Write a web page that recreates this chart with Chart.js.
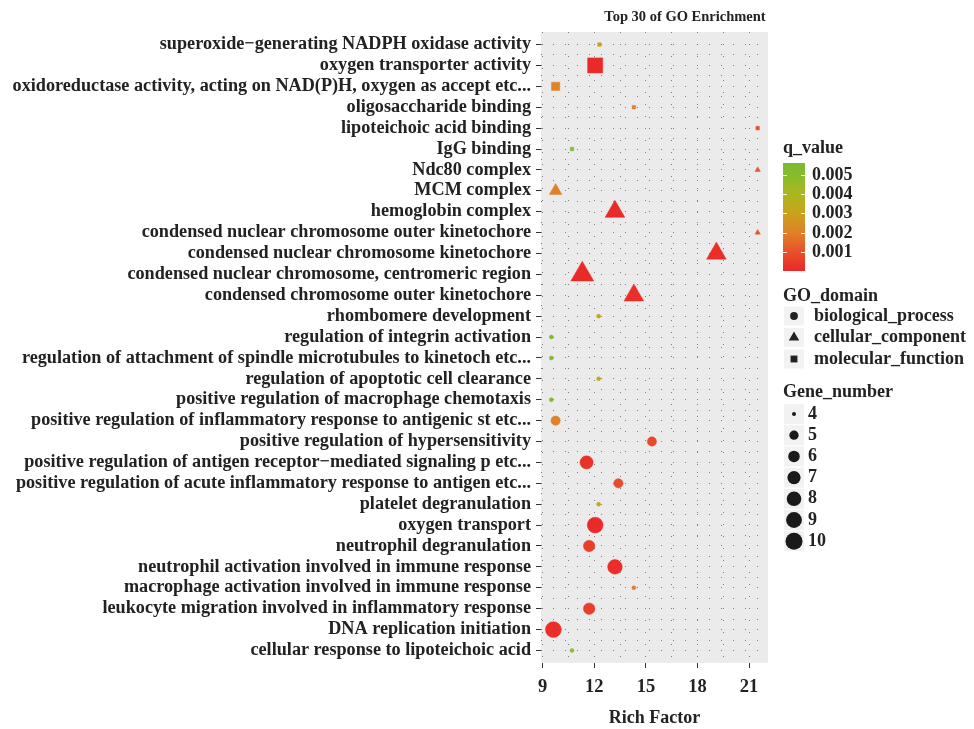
<!DOCTYPE html>
<html>
<head>
<meta charset="utf-8">
<script src="https://cdn.jsdelivr.net/npm/chart.js@4/dist/chart.umd.min.js"></script>
<style>
  html, body { margin: 0; padding: 0; background: #fff; }
  #wrap { width: 974px; height: 729px; }
</style>
</head>
<body>
<div id="wrap"><canvas id="go-dot" width="974" height="729"></canvas></div>
<script>
// rows, top to bottom
var categories = [
  "superoxide\u2212generating NADPH oxidase activity",
  "oxygen transporter activity",
  "oxidoreductase activity, acting on NAD(P)H, oxygen as accept etc...",
  "oligosaccharide binding",
  "lipoteichoic acid binding",
  "IgG binding",
  "Ndc80 complex",
  "MCM complex",
  "hemoglobin complex",
  "condensed nuclear chromosome outer kinetochore",
  "condensed nuclear chromosome kinetochore",
  "condensed nuclear chromosome, centromeric region",
  "condensed chromosome outer kinetochore",
  "rhombomere development",
  "regulation of integrin activation",
  "regulation of attachment of spindle microtubules to kinetoch etc...",
  "regulation of apoptotic cell clearance",
  "positive regulation of macrophage chemotaxis",
  "positive regulation of inflammatory response to antigenic st etc...",
  "positive regulation of hypersensitivity",
  "positive regulation of antigen receptor\u2212mediated signaling p etc...",
  "positive regulation of acute inflammatory response to antigen etc...",
  "platelet degranulation",
  "oxygen transport",
  "neutrophil degranulation",
  "neutrophil activation involved in immune response",
  "macrophage activation involved in immune response",
  "leukocyte migration involved in inflammatory response",
  "DNA replication initiation",
  "cellular response to lipoteichoic acid"
];
var goDomain = [
  "MF", "MF", "MF", "MF", "MF", "MF",
  "CC", "CC", "CC", "CC", "CC", "CC", "CC",
  "BP", "BP", "BP", "BP", "BP", "BP", "BP", "BP", "BP",
  "BP", "BP", "BP", "BP", "BP", "BP", "BP", "BP"
];
var richFactor = [
  12.3, 12.05, 9.75, 14.3, 21.5, 10.7,
  21.5, 9.75, 13.2, 21.5, 19.1, 11.3, 14.3,
  12.25, 9.5, 9.5, 12.25, 9.5, 9.75, 15.35, 11.55, 13.4,
  12.25, 12.05, 11.7, 13.2, 14.3, 11.7, 9.62, 10.7
];
var geneNumber = [
  4, 10, 5, 4, 4, 4,
  4, 5, 8, 4, 8, 10, 8,
  4, 4, 4, 4, 4, 5, 5, 7, 5,
  4, 9, 6, 8, 4, 6, 9, 4
];
var qValue = [
  0.0030, 0.0001, 0.0021, 0.0020, 0.0010, 0.0052,
  0.0011, 0.0020, 0.0001, 0.0011, 0.0002, 0.0001, 0.0002,
  0.0031, 0.0053, 0.0053, 0.0031, 0.0053, 0.0020, 0.0008, 0.0003, 0.0009,
  0.0031, 0.0001, 0.0006, 0.0002, 0.0020, 0.0006, 0.0002, 0.0047
];
var xTickLabels = [9, 12, 15, 18, 21];
var qTicks = [0.001, 0.002, 0.003, 0.004, 0.005];
var geneTicks = [4, 5, 6, 7, 8, 9, 10];
var domainKeys = ["BP", "CC", "MF"];
var domainNames = ["biological_process", "cellular_component", "molecular_function"];

var FONT = "'Liberation Serif', 'DejaVu Serif', serif";
var INK = '#222222';
var shapes = { BP: 'circle', CC: 'triangle', MF: 'rect' };
var qMin = 0.00003, qMax = 0.0056;

// red -> orange -> yellow -> green, like the q_value bar
var colourStops = [
  [0.00000, [234, 38, 40]],
  [0.00100, [232, 80, 42]],
  [0.00200, [224, 128, 40]],
  [0.00300, [202, 162, 28]],
  [0.00400, [170, 184, 30]],
  [0.00500, [134, 188, 44]],
  [0.00600, [116, 184, 48]]
];
function qColour(q) {
  for (var i = 1; i < colourStops.length; i++) {
    if (q <= colourStops[i][0]) {
      var a = colourStops[i - 1], b = colourStops[i];
      var t = (q - a[0]) / (b[0] - a[0]);
      var c = a[1].map(function (v, k) { return Math.round(v + (b[1][k] - v) * t); });
      return 'rgb(' + c.join(',') + ')';
    }
  }
  return 'rgb(116,184,48)';
}
// ggplot-like area scale, radius of a circle for a gene count
function circleRadius(n) {
  return 0.7 + 1.3 * (1 + 5 * Math.sqrt((n - 4) / 6));
}
function markRadius(n, domain) {
  var r = circleRadius(n);
  if (domain === 'MF') return r * 1.253;   // square with same area
  if (domain === 'CC') return r * 1.555;   // triangle with same area
  return r;
}

var points = categories.map(function (c, i) {
  return { x: richFactor[i], y: i };
});

var xGrid = [];
for (var v = 9; v <= 21.01; v += 1.5) xGrid.push(v);
var yGrid = [];
for (var w = 0; w <= 29.01; w += 0.5) yGrid.push(w);

var plotBg = {
  id: 'plotBg',
  beforeDraw: function (chart) {
    var a = chart.chartArea, c = chart.ctx;
    c.save();
    c.fillStyle = '#EBEBEB';
    c.fillRect(a.left, a.top, a.right - a.left, a.bottom - a.top);
    c.restore();
  }
};

var legendPlugin = {
  id: 'goLegend',
  afterDraw: function (chart) {
    var c = chart.ctx;
    c.save();
    c.fillStyle = INK;
    c.textBaseline = 'middle';
    // title over the panel
    c.font = 'bold 14.5px ' + FONT;
    c.textAlign = 'center';
    c.fillText('Top 30 of GO Enrichment', 685, 17);

    c.textAlign = 'left';
    c.font = 'bold 18px ' + FONT;
    var lx = 783;
    // q_value colour bar
    c.fillText('q_value', lx, 148);
    var top = 163, bottom = 271, bw = 22;
    var g = c.createLinearGradient(0, bottom, 0, top);
    for (var s = 0; s <= 20; s++) {
      var q = qMin + (qMax - qMin) * s / 20;
      g.addColorStop(s / 20, qColour(q));
    }
    c.fillStyle = g;
    c.fillRect(lx, top, bw, bottom - top);
    c.strokeStyle = 'rgba(255,255,255,0.9)';
    c.lineWidth = 1;
    qTicks.forEach(function (q) {
      var y = Math.round(bottom - (q - qMin) / (qMax - qMin) * (bottom - top)) + 0.5;
      c.beginPath();
      c.moveTo(lx, y); c.lineTo(lx + 4, y);
      c.moveTo(lx + bw - 4, y); c.lineTo(lx + bw, y);
      c.stroke();
      c.fillStyle = INK;
      c.fillText(q.toFixed(3), lx + 29, y);
    });

    // GO_domain shapes
    c.fillStyle = INK;
    c.fillText('GO_domain', lx, 296);
    domainKeys.forEach(function (d, i) {
      var y = 316 + i * 21.5;
      c.fillStyle = '#F2F2F2';
      c.fillRect(lx + 1, y - 9.5, 20, 19);
      Chart.helpers.drawPoint(c, {
        pointStyle: shapes[d], radius: markRadius(4.5, d), rotation: 0, borderWidth: 0
      }, lx + 11, y);
      c.fillStyle = INK;
      c.fill();
      c.fillText(domainNames[i], lx + 31, y);
    });

    // Gene_number sizes
    c.fillStyle = INK;
    c.fillText('Gene_number', lx, 392);
    geneTicks.forEach(function (n, i) {
      var y = 414 + i * 21.2;
      c.fillStyle = '#F2F2F2';
      c.fillRect(lx + 1, y - 10, 20, 20);
      c.fillStyle = '#1a1a1a';
      c.beginPath();
      c.arc(lx + 11, y, circleRadius(n), 0, Math.PI * 2);
      c.fill();
      c.fillStyle = INK;
      c.fillText(String(n), lx + 25, y);
    });
    c.restore();
  }
};

var ctx = document.getElementById('go-dot');
var goChart = new Chart(ctx, {
  type: 'scatter',
  data: {
    datasets: [{
      label: 'GO',
      data: points,
      pointStyle: function (c) { return shapes[goDomain[c.dataIndex]]; },
      pointRadius: function (c) { return markRadius(geneNumber[c.dataIndex], goDomain[c.dataIndex]); },
      pointHoverRadius: function (c) { return markRadius(geneNumber[c.dataIndex], goDomain[c.dataIndex]); },
      backgroundColor: function (c) { return qColour(qValue[c.dataIndex]); },
      borderColor: function (c) { return qColour(qValue[c.dataIndex]); },
      borderWidth: 0.5
    }]
  },
  options: {
    responsive: false,
    animation: false,
    layout: { padding: { left: 0, right: 206, top: 32, bottom: 0 } },
    plugins: {
      legend: { display: false },
      tooltip: { enabled: false },
      title: { display: false }
    },
    scales: {
      x: {
        type: 'linear',
        min: 8.9,
        max: 22.1,
        afterBuildTicks: function (scale) {
          scale.ticks = xGrid.map(function (v) { return { value: v }; });
        },
        afterFit: function (scale) { scale.height = 66; },
        ticks: {
          autoSkip: false,
          maxRotation: 0,
          padding: 8,
          color: INK,
          font: { family: FONT, size: 18.5, weight: 'bold' },
          callback: function (v) { return xTickLabels.indexOf(v) >= 0 ? String(v) : ''; }
        },
        grid: {
          color: 'rgba(100,100,100,0.8)',
          lineWidth: 1,
          tickLength: 5,
          tickBorderDash: [],
          tickColor: function (c) {
            return c.tick && xTickLabels.indexOf(c.tick.value) >= 0 ? '#333' : 'rgba(0,0,0,0)';
          }
        },
        border: { display: false, dash: [1, 11] },
        title: {
          display: true,
          text: 'Rich Factor',
          color: INK,
          font: { family: FONT, size: 18, weight: 'bold' },
          padding: { top: 0, bottom: 0 }
        }
      },
      y: {
        type: 'linear',
        reverse: true,
        min: -0.6,
        max: 29.6,
        afterBuildTicks: function (scale) {
          scale.ticks = yGrid.map(function (v) { return { value: v }; });
        },
        afterFit: function (scale) { scale.width = 541; },
        ticks: {
          autoSkip: false,
          padding: 5,
          color: INK,
          font: { family: FONT, size: 18.2, weight: 'bold' },
          callback: function (v) { return Number.isInteger(v) ? categories[v] : ''; }
        },
        grid: {
          color: 'rgba(100,100,100,0.8)',
          lineWidth: 1,
          tickLength: 5,
          tickBorderDash: [],
          tickColor: function (c) {
            return c.tick && Number.isInteger(c.tick.value) ? '#333' : 'rgba(0,0,0,0)';
          }
        },
        border: { display: false, dash: [1, 11] }
      }
    }
  },
  plugins: [plotBg, legendPlugin]
});
</script>
</body>
</html>
